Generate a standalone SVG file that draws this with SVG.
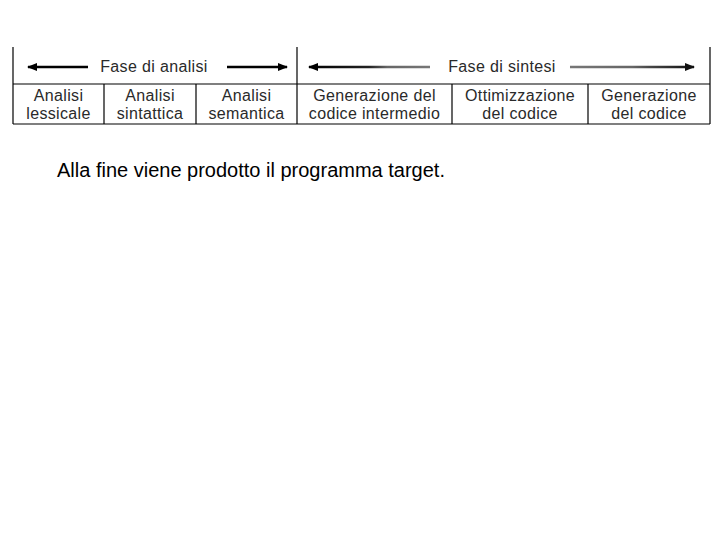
<svg xmlns="http://www.w3.org/2000/svg" width="720" height="540" viewBox="0 0 720 540">
<style>
.ln{stroke:#000;stroke-width:1.2;fill:none}
.t{font-family:"Liberation Sans",Arial,sans-serif;font-size:16px;fill:#2a2a2a;text-anchor:middle;letter-spacing:0.35px}
.big{font-family:"Liberation Sans",Arial,sans-serif;font-size:20px;fill:#000}
.ar{stroke-width:2.4;fill:none}
</style>
<defs>
<marker id="ah" markerWidth="10" markerHeight="8" refX="9" refY="4" orient="auto-start-reverse" markerUnits="userSpaceOnUse">
<path d="M0,0 L10,4 L0,8 Z" fill="#000"/>
</marker>
<marker id="ahg" markerWidth="10" markerHeight="8" refX="9" refY="4" orient="auto-start-reverse" markerUnits="userSpaceOnUse">
<path d="M0,0 L10,4 L0,8 Z" fill="#111"/>
</marker>
<linearGradient id="g1" x1="308" y1="0" x2="430" y2="0" gradientUnits="userSpaceOnUse">
<stop offset="0" stop-color="#000"/><stop offset="0.5" stop-color="#222"/><stop offset="0.65" stop-color="#666"/><stop offset="1" stop-color="#777"/>
</linearGradient>
<linearGradient id="g2" x1="570" y1="0" x2="695" y2="0" gradientUnits="userSpaceOnUse">
<stop offset="0" stop-color="#777"/><stop offset="0.5" stop-color="#666"/><stop offset="0.65" stop-color="#444"/><stop offset="1" stop-color="#111"/>
</linearGradient>
</defs>
<rect width="720" height="540" fill="#fff"/>
<g id="frame">
<line class="ln" x1="13" y1="47" x2="13" y2="124"/>
<line class="ln" x1="297" y1="47" x2="297" y2="124"/>
<line class="ln" x1="710" y1="47" x2="710" y2="124"/>
<line class="ln" x1="13" y1="84" x2="710" y2="84"/>
<line class="ln" x1="13" y1="124" x2="710" y2="124"/>
<line class="ln" x1="104" y1="84" x2="104" y2="124"/>
<line class="ln" x1="196" y1="84" x2="196" y2="124"/>
<line class="ln" x1="452" y1="84" x2="452" y2="124"/>
<line class="ln" x1="588" y1="84" x2="588" y2="124"/>
</g>
<g id="connectors">
<line class="ar" x1="28" y1="67" x2="88" y2="67" stroke="#000" marker-start="url(#ah)"/>
<line class="ar" x1="227" y1="67" x2="287" y2="67" stroke="#000" marker-end="url(#ah)"/>
<line class="ar" x1="309" y1="67" x2="430" y2="67" stroke="url(#g1)" marker-start="url(#ah)"/>
<line class="ar" x1="570" y1="67.01" x2="694" y2="67" stroke="url(#g2)" marker-end="url(#ahg)"/>
</g>
<g id="phase-analisi"><text class="t" x="154" y="72">Fase di analisi</text></g>
<g id="phase-sintesi"><text class="t" x="502" y="72">Fase di sintesi</text></g>
<g id="n1"><text class="t" x="58.5" y="101">Analisi</text><text class="t" x="58.5" y="119">lessicale</text></g>
<g id="n2"><text class="t" x="150" y="101">Analisi</text><text class="t" x="150" y="119">sintattica</text></g>
<g id="n3"><text class="t" x="246.5" y="101">Analisi</text><text class="t" x="246.5" y="119">semantica</text></g>
<g id="n4"><text class="t" x="374.5" y="101">Generazione del</text><text class="t" x="374.5" y="119">codice intermedio</text></g>
<g id="n5"><text class="t" x="520" y="101">Ottimizzazione</text><text class="t" x="520" y="119">del codice</text></g>
<g id="n6"><text class="t" x="649" y="101">Generazione</text><text class="t" x="649" y="119">del codice</text></g>
<g id="caption"><text class="big" x="57" y="177">Alla fine viene prodotto il programma target.</text></g>
</svg>
